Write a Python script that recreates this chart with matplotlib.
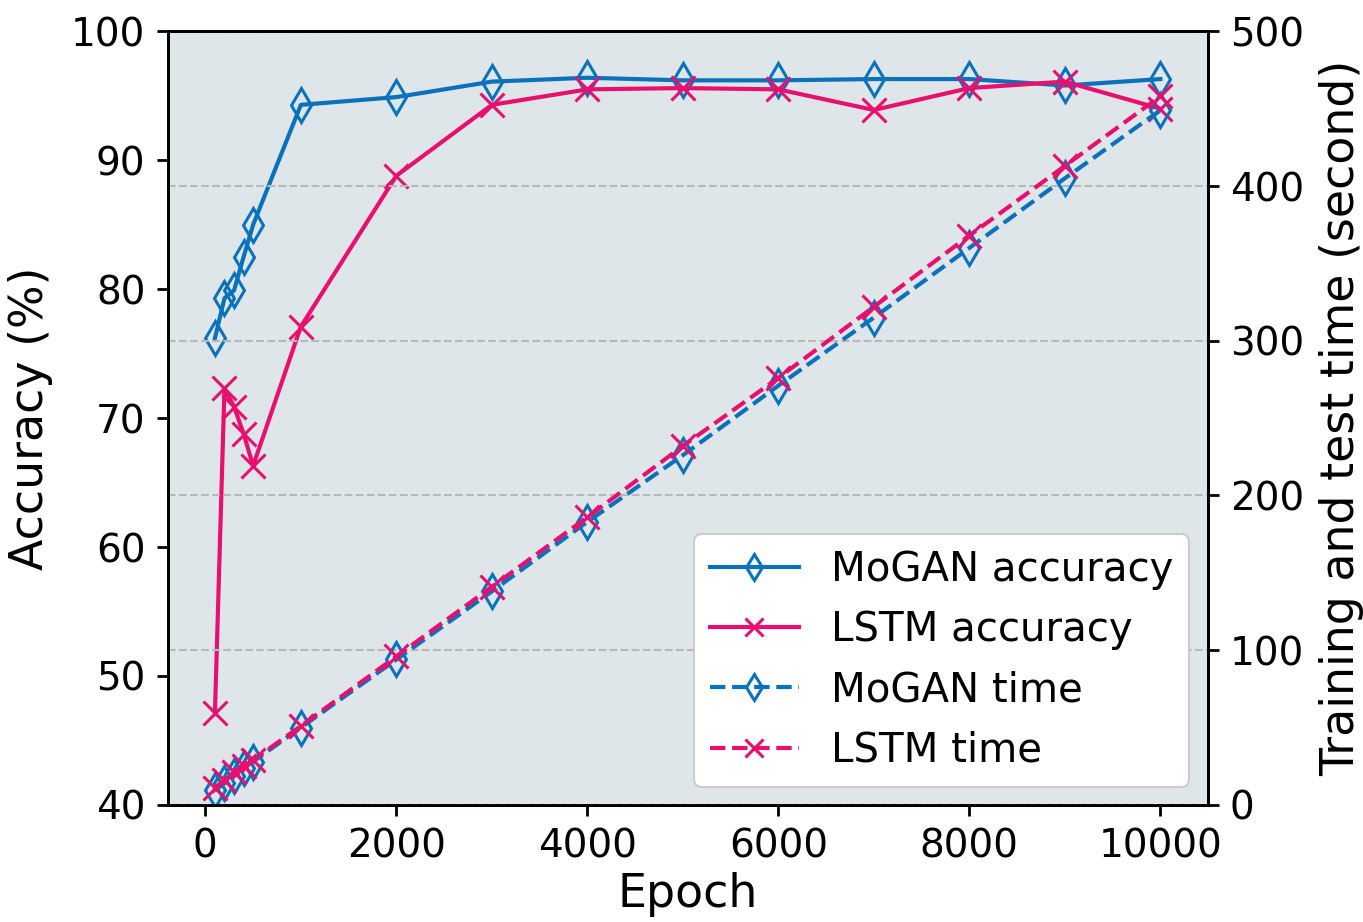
import matplotlib
matplotlib.use("Agg")
import matplotlib.pyplot as plt

epochs = [100, 200, 300, 400, 500, 1000, 2000, 3000, 4000, 5000, 6000, 7000, 8000, 9000, 10000]
mogan_acc = [76.2, 79.3, 79.9, 82.5, 85.0, 94.3, 94.9, 96.1, 96.4, 96.2, 96.2, 96.3, 96.3, 95.8, 96.3]
lstm_acc = [47.1, 72.3, 70.9, 68.8, 66.3, 77.1, 88.8, 94.3, 95.5, 95.6, 95.5, 93.9, 95.6, 96.1, 94.0]
mogan_time = [9.5, 14, 19, 24, 28, 50, 94, 138, 183, 226, 271, 315, 360, 405, 449]
lstm_time = [11, 16, 21, 25, 29, 51, 96, 141, 186, 232, 276, 322, 368, 413, 458]

blue = '#0a72ba'
pink = '#e8106f'

plt.rcParams['font.family'] = ['DejaVu Sans']
fig = plt.figure(figsize=(13.63, 9.22), dpi=100)
ax = fig.add_axes([0.123, 0.127, 0.763, 0.839])
ax2 = ax.twinx()
ax.set_facecolor('#dfe6e9')

ms = 17
lw = 3
mew = 2.2
l1, = ax.plot(epochs, mogan_acc, '-', color=blue, marker='d', mfc='none', mec=blue, ms=ms, mew=mew, lw=lw, label='MoGAN accuracy')
l2, = ax.plot(epochs, lstm_acc, '-', color=pink, marker='x', ms=ms, mew=mew, lw=lw, label='LSTM accuracy')
l3, = ax2.plot(epochs, mogan_time, '--', color=blue, marker='d', mfc='none', mec=blue, ms=ms, mew=mew, lw=lw, label='MoGAN time')
l4, = ax2.plot(epochs, lstm_time, '--', color=pink, marker='x', ms=ms, mew=mew, lw=lw, label='LSTM time')

ax.set_ylim(40, 100)
ax2.set_ylim(0, 500)
ax.set_xticks([0, 2000, 4000, 6000, 8000, 10000])
ax.set_yticks([40, 50, 60, 70, 80, 90, 100])
ax2.set_yticks([0, 100, 200, 300, 400, 500])
ax2.yaxis.grid(True, linestyle='--', color='#b8b8b8', lw=1.5)
ax2.set_axisbelow(True)

fs = 28
ax.tick_params(labelsize=fs, width=2, length=8, pad=8)
ax2.tick_params(labelsize=fs, width=2, length=8, pad=8)
ax.set_xlabel('Epoch', fontsize=33, labelpad=5)
ax.set_ylabel('Accuracy (%)', fontsize=33, labelpad=13)
ax2.set_ylabel('Training and test time (second)', fontsize=33, labelpad=11)
for a in (ax, ax2):
    for s in a.spines.values():
        s.set_linewidth(2)
        s.set_color('black')

leg = ax2.legend(handles=[l1, l2, l3, l4], loc='lower right', fontsize=29, framealpha=1.0,
                 fancybox=True, borderpad=0.4, handlelength=2.2, labelspacing=0.5,
                 handletextpad=0.8, markerscale=0.8, borderaxespad=0.45)
leg.get_frame().set_edgecolor('#cccccc')
leg.get_frame().set_linewidth(1.5)

fig.savefig('out.png', dpi=100)
